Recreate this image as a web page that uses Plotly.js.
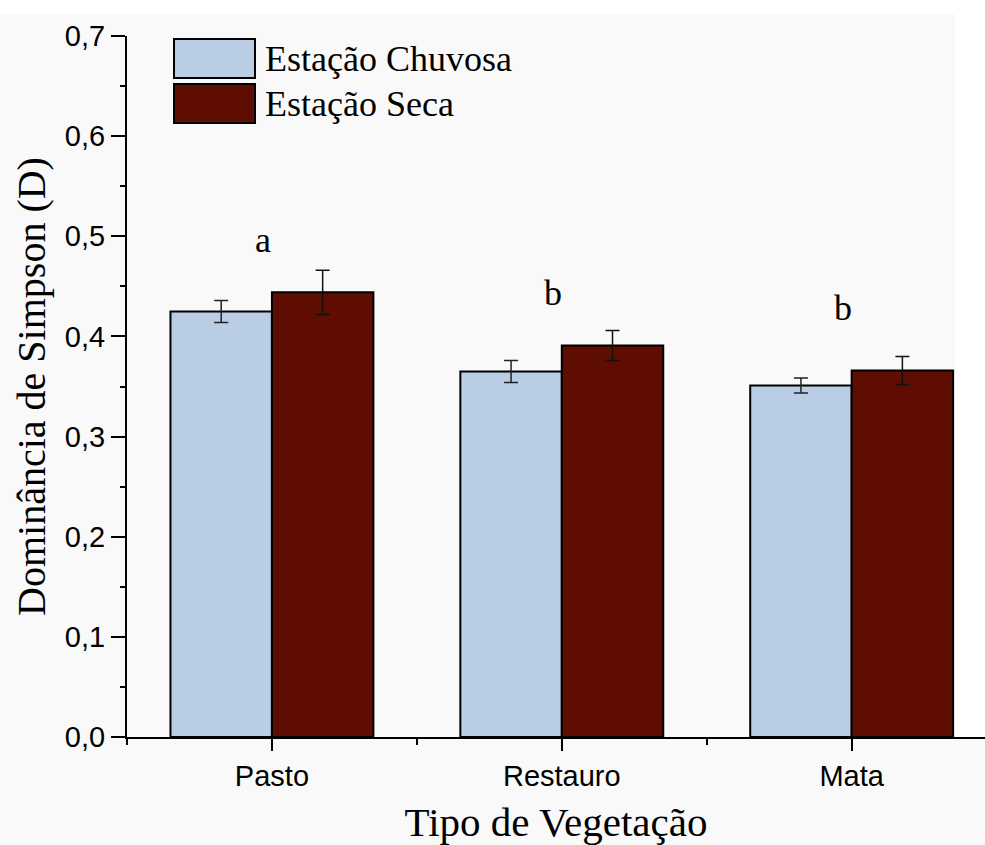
<!DOCTYPE html>
<html>
<head>
<meta charset="utf-8">
<script src="https://cdn.plot.ly/plotly-3.0.1.min.js"></script>
<style>html,body{margin:0;padding:0;background:#f9f9f9;}#chart{width:985px;height:845px;}</style>
</head>
<body>
<div id="chart"></div>
<script>
// ---- data ----
const categories = ["Pasto", "Restauro", "Mata"];
const seriesNames = ["Estação Chuvosa", "Estação Seca"];
const chuvosaValues = [0.425, 0.365, 0.351];
const chuvosaErrors = [0.011, 0.011, 0.0075];
const secaValues = [0.444, 0.391, 0.366];
const secaErrors = [0.022, 0.015, 0.014];
const groupLetters = ["a", "b", "b"];
const letterHeights = [0.496, 0.443, 0.428];
const yTickValues = [0, 0.1, 0.2, 0.3, 0.4, 0.5, 0.6, 0.7];

const colors = ["#b9cde5", "#5e0d00"];
const xIdx = categories.map((c, i) => i);

const serif = "Liberation Serif, Times New Roman, serif";
const sans = "Liberation Sans, Arial, sans-serif";

const traces = [
  {type: "bar", x: xIdx, y: chuvosaValues, name: seriesNames[0],
   marker: {color: colors[0], line: {color: "#000", width: 2}},
   error_y: {type: "data", array: chuvosaErrors, visible: true, color: "#222", thickness: 1.5, width: 7}},
  {type: "bar", x: xIdx, y: secaValues, name: seriesNames[1],
   marker: {color: colors[1], line: {color: "#000", width: 2}},
   error_y: {type: "data", array: secaErrors, visible: true, color: "#111", thickness: 1.5, width: 7}}
];

const annotations = groupLetters.map((t, i) => ({
  x: xIdx[i], y: letterHeights[i], xref: "x", yref: "y", text: t, showarrow: false,
  xshift: -9, font: {family: serif, size: 36, color: "#000"}, yanchor: "middle"
}));

// legend (drawn as decoration)
const legendY = [[0.9401, 0.9957], [0.8759, 0.9315]];
const shapes = [
  {type: "rect", xref: "paper", yref: "paper", x0: -0.16, x1: 1.02, y0: 1.0314, y1: 1.06, fillcolor: "#ffffff", line: {width: 0}, layer: "below"},
  {type: "rect", xref: "paper", yref: "paper", x0: 0.965, x1: 1.02, y0: 0, y1: 1.06, fillcolor: "#ffffff", line: {width: 0}, layer: "below"}
];
seriesNames.forEach((n, i) => {
  shapes.push({type: "rect", xref: "paper", yref: "paper", x0: 0.0548, x1: 0.1492,
    y0: legendY[i][0], y1: legendY[i][1], fillcolor: colors[i], line: {color: "#000", width: 2}});
  annotations.push({xref: "paper", yref: "paper", x: 0.1590, y: (legendY[i][0] + legendY[i][1]) / 2,
    xanchor: "left", yanchor: "middle", text: n, showarrow: false,
    font: {family: serif, size: 36, color: "#000"}});
});

const layout = {
  width: 985, height: 845,
  margin: {l: 127, r: 0, t: 36, b: 108},
  paper_bgcolor: "#f9f9f9", plot_bgcolor: "#f9f9f9",
  separators: ", ",
  showlegend: false,
  barmode: "group", bargap: 0.3, bargroupgap: 0,
  xaxis: {
    range: [-0.5, 2.46], tickmode: "array", tickvals: xIdx, ticktext: categories,
    showgrid: false, zeroline: false, showline: true, linecolor: "#000", linewidth: 2,
    ticks: "outside", ticklen: 12, tickwidth: 2, tickcolor: "#000",
    tickfont: {family: sans, size: 29, color: "#000"},
    minor: {tickmode: "linear", tick0: 0.5, dtick: 1, ticks: "outside", ticklen: 6, tickwidth: 2, tickcolor: "#000", showgrid: false},
    title: {text: "Tipo de Vegetação", font: {family: serif, size: 41, color: "#000"}, standoff: 23}
  },
  yaxis: {
    range: [0, 0.7], tickmode: "array", tickvals: yTickValues, tickformat: ".1f",
    showgrid: false, zeroline: false, showline: true, linecolor: "#000", linewidth: 2,
    ticks: "outside", ticklen: 14, tickwidth: 2, tickcolor: "#000",
    tickfont: {family: sans, size: 29, color: "#000"},
    minor: {tickmode: "linear", tick0: 0.05, dtick: 0.1, ticks: "outside", ticklen: 5, tickwidth: 2, tickcolor: "#000", showgrid: false},
    title: {text: "Dominância de Simpson (D)", font: {family: serif, size: 40, color: "#000"}, standoff: 7}
  },
  annotations: annotations,
  shapes: shapes
};

Plotly.newPlot("chart", traces, layout, {displayModeBar: false, staticPlot: true});
</script>
</body>
</html>
